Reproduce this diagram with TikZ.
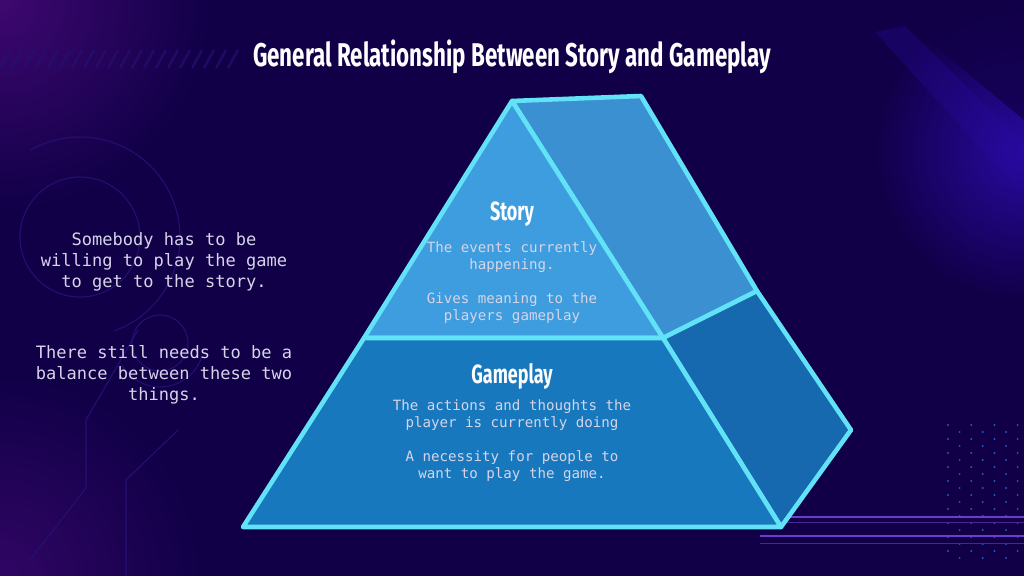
\documentclass[tikz,border=0pt]{standalone}
\usepackage{fontspec}
\setmonofont{DejaVu Sans Mono}
\newfontfamily\headfont[FakeStretch=0.68]{Fira Sans}
\usepackage{tikz}
\definecolor{bgnavy}{RGB}{17,0,72}
\definecolor{glowpurple}{RGB}{62,8,112}
\definecolor{glowblue}{RGB}{40,10,160}
\definecolor{decoline}{RGB}{36,16,112}
\definecolor{dotblue}{RGB}{40,90,180}
\definecolor{strokepurple}{RGB}{110,60,205}
\definecolor{edgecyan}{RGB}{98,226,246}
\definecolor{storyblue}{RGB}{62,157,222}
\definecolor{gameblue}{RGB}{24,120,190}
\definecolor{sideupper}{RGB}{58,144,208}
\definecolor{sidelower}{RGB}{22,105,174}
\definecolor{softtext}{RGB}{214,212,232}
\tikzstyle{face}=[draw=edgecyan, line width=4.6pt, line join=round]
\tikzstyle{heading}=[text=white, font=\headfont\bfseries\fontsize{33}{36}\selectfont]
\tikzstyle{layername}=[text=white, font=\headfont\bfseries\fontsize{26.5}{29}\selectfont]
\tikzstyle{body}=[text=softtext, font=\ttfamily\fontsize{14.2}{17}\selectfont, align=center]
\tikzstyle{note}=[text=softtext, font=\ttfamily\fontsize{17.1}{21}\selectfont, align=center]
\tikzstyle{deco}=[draw=decoline, line width=1.1pt]

\begin{document}
\begin{tikzpicture}[x=1bp, y=-1bp]
	\useasboundingbox (0,0) rectangle (1024,576);
	\begin{scope}
		% background
		\fill[bgnavy] (0,0) rectangle (1024,576);
		\shade[inner color=glowpurple, outer color=bgnavy] (0,0) circle (210);
		\shade[inner color=glowpurple!70!bgnavy, outer color=bgnavy] (0,576) circle (200);
		\shade[inner color=glowblue, outer color=bgnavy] (1024,150) circle (150);
		\fill[bgnavy, opacity=0.75] (880,0) -- (1024,0) -- (1024,120) -- cycle;
		\fill[glowblue, opacity=0.3] (875,32) -- (905,26) -- (1024,142) -- (1024,196) -- cycle;
		\foreach \sx in {0,12,...,230}
			\draw[decoline, line width=2.5pt, opacity=0.7] (\sx,68) -- (\sx+10,50);
		\draw[deco] (80,237) circle (60);
		\draw[deco] (80,237) ++(70:100) arc (70:-120:100);
		\draw[deco] (160,343) circle (28);
		\draw[deco] (160,343) ++(150:44) arc (150:20:44);
		\draw[deco] (138,330) -- (86,420) -- (86,488) -- (30,560);
		\draw[deco] (178,430) -- (126,480) -- (126,576);
		\foreach \dx in {0,1,...,6}
			\foreach \dy in {0,1,...,9}
				\fill[dotblue] ({948+11.6*\dx}, {425+14*\dy+7*mod(\dx,2)}) circle (1.1);
		\draw[strokepurple, line width=1.6pt] (760,517) -- (1024,517);
		\draw[strokepurple, line width=1.6pt] (760,536) -- (1024,536);
		\draw[strokepurple!60!bgnavy, line width=0.8pt] (760,522) -- (1024,522);
		\draw[strokepurple!60!bgnavy, line width=0.8pt] (760,543) -- (1024,543);
	\end{scope}
	\begin{scope}
		% pyramid corners
		\coordinate (apex) at (512,101);
		\coordinate (backtop) at (641,96);
		\coordinate (backmid) at (757,291);
		\coordinate (backright) at (851,430);
		\coordinate (baseL) at (243,527);
		\coordinate (baseR) at (781,527);
		\coordinate (midL) at (364,338);
		\coordinate (midR) at (663,338);
		\path[face, fill=sideupper] (apex) -- (backtop) -- (backmid) -- (midR) -- cycle;
		\path[face, fill=sidelower] (midR) -- (backmid) -- (backright) -- (baseR) -- cycle;
		\path[face, fill=storyblue] (apex) -- (midR) -- (midL) -- cycle;
		\path[face, fill=gameblue] (midL) -- (midR) -- (baseR) -- (baseL) -- cycle;
	\end{scope}
	\begin{scope}
		\node[heading] (title) at (512,57) {General Relationship Between Story and Gameplay};
		\node[layername] (story) at (512,214) {Story};
		\node[body] (storytext) at (512,283) {The events currently\\happening.\\[17bp]Gives meaning to the\\players gameplay};
		\node[layername] (gameplay) at (512,376) {Gameplay};
		\node[body] (gametext) at (512,441) {The actions and thoughts the\\player is currently doing\\[17bp]A necessity for people to\\want to play the game.};
		\node[note] (willing) at (164,262) {Somebody has to be\\willing to play the game\\to get to the story.};
		\node[note] (balance) at (164,375) {There still needs to be a\\balance between these two\\things.};
	\end{scope}
\end{tikzpicture}
\end{document}
